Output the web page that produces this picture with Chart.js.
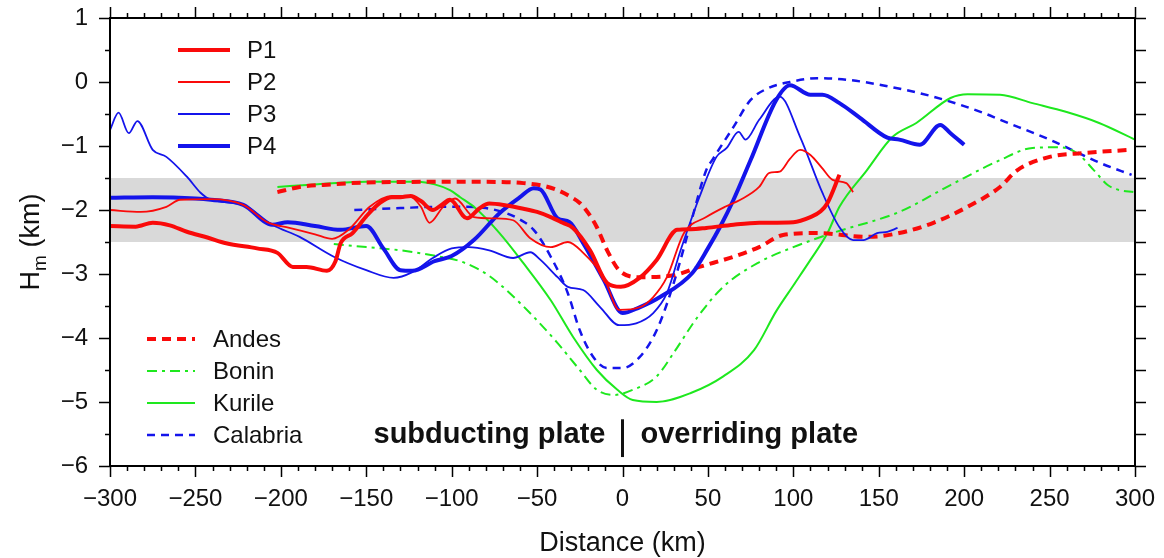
<!DOCTYPE html>
<html><head><meta charset="utf-8">
<script src="https://cdn.jsdelivr.net/npm/chart.js@4.4.1/dist/chart.umd.min.js"></script>
<style>html,body{margin:0;padding:0;background:#fff;}canvas{display:block;}</style>
</head><body>
<canvas id="c" width="1164" height="558"></canvas>
<script>
const FONT = "'Liberation Sans', Arial, Helvetica, sans-serif";

// ---- data (distance in km, Hm in km) ----
const p1Dist = [-300,-285,-275,-265,-255,-243,-232,-214,-202,-193,-185,-173,-168,-165,-158,-150,-142,-135,-130,-124,-118,-111,-106,-101,-91,-84,-78,-68,-58,-50,-42,-35,-29,-19,-9,-1,10,20,32,40,49,65,80,100,110,116,120,127];
const p1Hm   = [-2.25,-2.26,-2.2,-2.24,-2.34,-2.43,-2.52,-2.6,-2.67,-2.89,-2.89,-2.95,-2.8,-2.52,-2.36,-2.1,-1.89,-1.8,-1.8,-1.78,-1.86,-2.0,-1.92,-1.84,-2.13,-1.98,-1.9,-1.93,-1.98,-2.03,-2.11,-2.2,-2.28,-2.63,-3.14,-3.2,-3.06,-2.78,-2.31,-2.3,-2.28,-2.23,-2.2,-2.19,-2.11,-2.02,-1.89,-1.45];

const p2Dist = [-300,-282,-267,-259,-241,-222,-208,-195,-180,-170,-160,-148,-135,-125,-118,-113,-105,-98,-87,-75,-64,-54,-42,-32,-23,-11,-2,10,18,26,36,49,60,69,80,86,92,98,104,110,117,123,131,135];
const p2Hm   = [-2.0,-2.03,-1.95,-1.84,-1.83,-1.92,-2.19,-2.28,-2.38,-2.45,-2.3,-1.95,-1.78,-1.78,-1.95,-2.2,-1.95,-1.82,-2.11,-2.13,-2.16,-2.44,-2.58,-2.5,-2.67,-3.05,-3.56,-3.52,-3.36,-3.05,-2.36,-2.11,-1.95,-1.84,-1.64,-1.42,-1.4,-1.2,-1.06,-1.14,-1.35,-1.53,-1.58,-1.72];

const p3Dist = [-300,-295,-289,-284,-275,-267,-255,-247,-241,-222,-205,-189,-169,-150,-134,-123,-111,-100,-90,-78,-64,-54,-48,-38,-32,-23,-13,-2,8,18,26,34,45,55,61,68,72,80,92,104,117,127,135,141,149,155,161];
const p3Hm   = [-0.75,-0.48,-0.8,-0.61,-1.06,-1.17,-1.48,-1.73,-1.84,-1.92,-2.23,-2.42,-2.73,-2.94,-3.06,-2.97,-2.75,-2.6,-2.58,-2.63,-2.75,-2.66,-2.78,-3.05,-3.2,-3.25,-3.52,-3.8,-3.77,-3.61,-3.3,-2.63,-1.8,-1.17,-1.03,-0.78,-0.9,-0.59,-0.23,-0.86,-1.73,-2.27,-2.47,-2.47,-2.36,-2.34,-2.28];

const p4Dist = [-300,-275,-250,-241,-222,-205,-196,-180,-165,-150,-140,-130,-123,-110,-100,-87,-72,-60,-52,-48,-38,-31,-23,-11,0,10,22,41,50,57,65,75,90,98,110,117,127,139,155,162,174,186,192,200];
const p4Hm   = [-1.81,-1.8,-1.82,-1.84,-1.92,-2.23,-2.19,-2.25,-2.31,-2.25,-2.6,-2.94,-2.95,-2.8,-2.72,-2.47,-2.05,-1.8,-1.66,-1.68,-2.13,-2.19,-2.52,-3.09,-3.61,-3.52,-3.36,-2.98,-2.6,-2.27,-1.84,-1.22,-0.28,-0.05,-0.2,-0.2,-0.33,-0.56,-0.87,-0.9,-0.98,-0.67,-0.8,-0.98];

const andesDist = [-202,-189,-170,-150,-107,-80,-58,-45,-38,-30,-25,-20,-15,-9,-2,10,30,45,65,80,94,114,143,162,182,202,221,231,250,270,297];
const andesHm   = [-1.72,-1.64,-1.6,-1.57,-1.56,-1.56,-1.58,-1.63,-1.69,-1.8,-1.89,-2.05,-2.27,-2.63,-2.94,-3.05,-3.02,-2.89,-2.73,-2.58,-2.39,-2.36,-2.42,-2.36,-2.2,-1.95,-1.64,-1.38,-1.17,-1.11,-1.06];

const boninDist = [-169,-150,-130,-107,-95,-87,-78,-68,-52,-38,-25,-15,-5,6,20,30,44,59,79,100,123,162,192,221,240,256,266,276,284,291,299];
const boninHm   = [-2.53,-2.58,-2.63,-2.73,-2.8,-2.89,-3.03,-3.25,-3.67,-4.08,-4.5,-4.81,-4.89,-4.81,-4.6,-4.23,-3.67,-3.2,-2.83,-2.58,-2.36,-2.03,-1.61,-1.22,-1.03,-1.02,-1.11,-1.38,-1.61,-1.69,-1.72];

const kurileDist = [-202,-180,-150,-120,-110,-101,-95,-87,-72,-58,-42,-29,-15,-3,6,20,40,59,77,90,100,110,120,127,143,158,172,192,202,221,240,260,279,300];
const kurileHm   = [-1.64,-1.6,-1.56,-1.56,-1.6,-1.69,-1.8,-1.95,-2.36,-2.83,-3.41,-3.98,-4.5,-4.81,-4.97,-5.0,-4.86,-4.6,-4.19,-3.58,-3.18,-2.78,-2.36,-1.95,-1.38,-0.86,-0.64,-0.25,-0.19,-0.2,-0.33,-0.47,-0.64,-0.9];

const calabriaDist = [-157,-130,-107,-95,-80,-68,-60,-52,-42,-32,-25,-17,-9,0,10,20,30,40,49,53,65,75,85,98,114,133,152,182,211,221,250,280,298];
const calabriaHm   = [-2.0,-1.97,-1.95,-1.95,-1.97,-2.05,-2.15,-2.31,-2.73,-3.3,-3.88,-4.3,-4.47,-4.47,-4.3,-3.88,-3.14,-2.2,-1.38,-1.2,-0.7,-0.28,-0.1,0,0.06,0.03,-0.05,-0.23,-0.48,-0.59,-0.9,-1.27,-1.45];

const bandRange = [-2.5, -1.5];
const xTickLabels = [-300,-250,-200,-150,-100,-50,0,50,100,150,200,250,300];
const yTickLabels = [1,0,-1,-2,-3,-4,-5,-6];
const noteLeft = 'subducting plate';
const noteRight = 'overriding plate';
// ------------------------------------------

const RED = 'rgb(250,10,10)', BLUE = 'rgb(20,20,235)', GREEN = 'rgb(30,232,30)';
function pts(xs, ys){ return xs.map((x,i)=>({x:x, y:ys[i]})); }
function mk(label, xs, ys, color, width, dash){
  return {label, data: pts(xs, ys), borderColor: color, borderWidth: width, borderDash: dash || [],
    pointRadius: 0, fill: false, cubicInterpolationMode: 'monotone', borderCapStyle: 'butt', borderJoinStyle: 'round'};
}
const datasets = [
  mk('P1', p1Dist, p1Hm, RED, 4),
  mk('P2', p2Dist, p2Hm, RED, 1.8),
  mk('P3', p3Dist, p3Hm, BLUE, 1.8),
  mk('P4', p4Dist, p4Hm, BLUE, 4),
  mk('Andes', andesDist, andesHm, RED, 4, [9,6]),
  mk('Bonin', boninDist, boninHm, GREEN, 2, [10,5,3,5]),
  mk('Kurile', kurileDist, kurileHm, GREEN, 2),
  mk('Calabria', calabriaDist, calabriaHm, BLUE, 2.5, [8,6])
];
const legendGroups = [
  {labels:['P1','P2','P3','P4'], x0:178, x1:230, tx:247, y0:50, dy:32},
  {labels:['Andes','Bonin','Kurile','Calabria'], x0:147, x1:195, tx:213, y0:339, dy:32}
];
const fmt = v => (v < 0 ? '\u2212' + Math.abs(v) : String(v));

const decor = {
  id: 'decor',
  beforeDatasetsDraw(chart){
    const {ctx, chartArea:a, scales:{y}} = chart;
    const yt = y.getPixelForValue(bandRange[1]), yb = y.getPixelForValue(bandRange[0]);
    ctx.save(); ctx.fillStyle = '#d9d9d9';
    ctx.fillRect(a.left, yt, a.right - a.left, yb - yt); ctx.restore();
  },
  afterDatasetsDraw(chart){
    const {ctx, chartArea:a, scales:{x, y}} = chart;
    ctx.save();
    ctx.strokeStyle = '#000'; ctx.lineWidth = 2;
    ctx.strokeRect(a.left, a.top, a.right - a.left, a.bottom - a.top);
    ctx.lineWidth = 1.5;
    ctx.beginPath();
    for (let k = -30; k <= 30; k++){
      const px = Math.round(x.getPixelForValue(k*10)) + 0.5;
      const L = (k % 5 === 0) ? 11 : 5;
      ctx.moveTo(px, a.bottom); ctx.lineTo(px, a.bottom + L);
      ctx.moveTo(px, a.top); ctx.lineTo(px, a.top - L);
    }
    for (let k = -12; k <= 2; k++){
      const py = Math.round(y.getPixelForValue(k*0.5)) + 0.5;
      const L = (k % 2 === 0) ? 11 : 5;
      ctx.moveTo(a.left, py); ctx.lineTo(a.left - L, py);
      ctx.moveTo(a.right, py); ctx.lineTo(a.right + 11, py);
    }
    ctx.stroke();

    ctx.textBaseline = 'middle'; ctx.textAlign = 'left';
    ctx.font = '24px ' + FONT;
    legendGroups.forEach(g => {
      g.labels.forEach((lab, i) => {
        const ds = chart.data.datasets.find(d => d.label === lab);
        const yy = g.y0 + i*g.dy;
        ctx.beginPath();
        ctx.strokeStyle = ds.borderColor; ctx.lineWidth = ds.borderWidth;
        ctx.setLineDash(ds.borderDash);
        ctx.moveTo(g.x0, yy); ctx.lineTo(g.x1, yy); ctx.stroke();
        ctx.setLineDash([]);
        ctx.fillStyle = '#111';
        ctx.fillText(lab, g.tx, yy + 1);
      });
    });

    const x0 = x.getPixelForValue(0);
    const base = y.getPixelForValue(-5.64);
    ctx.font = 'bold 29px ' + FONT; ctx.fillStyle = '#111';
    ctx.textBaseline = 'alphabetic';
    ctx.textAlign = 'right'; ctx.fillText(noteLeft, x0 - 17, base);
    ctx.textAlign = 'left'; ctx.fillText(noteRight, x0 + 18, base);
    ctx.fillRect(x0 - 1.5, y.getPixelForValue(-5.27), 3, y.getPixelForValue(-5.86) - y.getPixelForValue(-5.27));

    ctx.translate(39, (a.top + a.bottom) / 2);
    ctx.rotate(-Math.PI/2);
    const f1 = '27px ' + FONT, f2 = '19px ' + FONT;
    ctx.font = f1; const wH = ctx.measureText('H').width, wR = ctx.measureText(' (km)').width;
    ctx.font = f2; const wm = ctx.measureText('m').width;
    let sx = -(wH + wm + wR) / 2;
    ctx.fillStyle = '#111'; ctx.textAlign = 'left';
    ctx.font = f1; ctx.fillText('H', sx, 0); sx += wH;
    ctx.font = f2; ctx.fillText('m', sx, 7); sx += wm;
    ctx.font = f1; ctx.fillText(' (km)', sx, 0);
    ctx.restore();
  }
};

new Chart(document.getElementById('c'), {
  type: 'line',
  data: { datasets },
  options: {
    responsive: false, animation: false, devicePixelRatio: 1,
    layout: { padding: { top: 18, right: 29, left: 0, bottom: 0 } },
    plugins: { legend: { display: false }, tooltip: { enabled: false } },
    scales: {
      x: {
        type: 'linear', min: -300, max: 300,
        afterBuildTicks: s => { s.ticks = xTickLabels.map(v => ({value: v})); },
        ticks: { font: { family: FONT, size: 24 }, color: '#111', padding: 19, maxRotation: 0, autoSkip: false, callback: fmt },
        grid: { display: false, drawTicks: false }, border: { display: false },
        title: { display: true, text: 'Distance (km)', color: '#111', font: { family: FONT, size: 27, lineHeight: 1.05 }, padding: { top: 0, bottom: 0 } },
        afterFit: s => { s.height = 92; s.paddingLeft = 0; s.paddingRight = 0; }
      },
      y: {
        type: 'linear', min: -6, max: 1,
        afterBuildTicks: s => { s.ticks = yTickLabels.map(v => ({value: v})); },
        ticks: { font: { family: FONT, size: 24 }, color: '#111', padding: 22, autoSkip: false, callback: fmt },
        grid: { display: false, drawTicks: false }, border: { display: false },
        afterFit: s => { s.width = 110; s.paddingTop = 0; s.paddingBottom = 0; }
      }
    }
  },
  plugins: [decor]
});
</script>
</body></html>
